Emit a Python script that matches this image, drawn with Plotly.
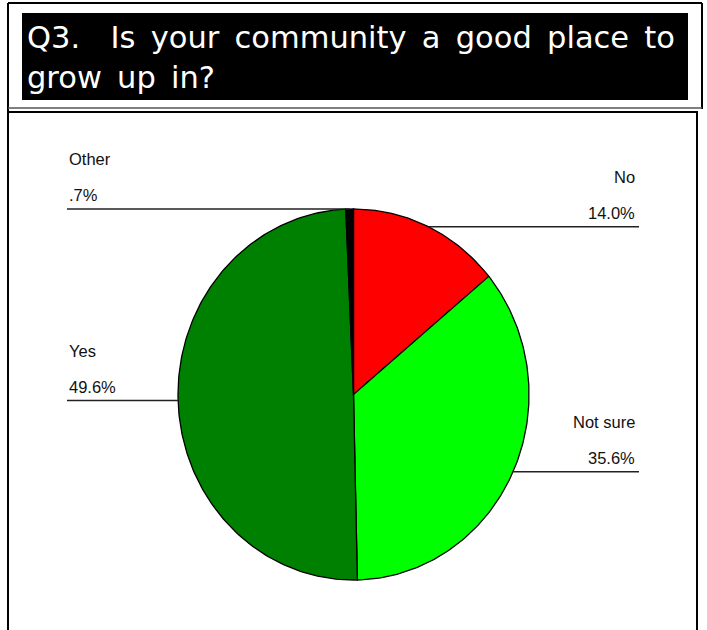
import math
import plotly.graph_objects as go

# Survey answers, clockwise from 12 o'clock
categories = ["No", "Not sure", "Yes", "Other"]
percents = [14.0, 35.6, 49.6, 0.7]
value_labels = ["14.0%", "35.6%", "49.6%", ".7%"]
slice_colors = ["#ff0000", "#00ff00", "#008000", "#000000"]

title_number = "Q3."
title_words = ["Is", "your", "community", "a", "good", "place", "to"]
title_line2 = ["grow", "up", "in?"]

W, H = 707, 630
CX, CY = 353.5, 394.5      # pie centre (axis units == pixels)
RX, RY = 175.5, 185.5      # pie radii
LEFT_X, RIGHT_X = 67, 639  # outer ends of the leader lines
LABEL_FONT = dict(family="Liberation Sans, Arial, sans-serif", size=16.5, color="#111111")


def rim(theta):
    """Point on the pie rim; theta in degrees, clockwise from the top."""
    t = math.radians(theta)
    return CX + RX * math.sin(t), CY - RY * math.cos(t)


fig = go.Figure()
annotations = []
total = sum(percents)
start = 0.0
for name, pct, vlab, col in zip(categories, percents, value_labels, slice_colors):
    sweep = 360.0 * pct / total
    n = max(4, int(sweep))
    xs, ys = [CX], [CY]
    for i in range(n + 1):
        px, py = rim(start + sweep * i / n)
        xs.append(px)
        ys.append(py)
    xs.append(CX)
    ys.append(CY)
    fig.add_trace(go.Scatter(
        x=xs, y=ys, mode="lines", fill="toself", fillcolor=col,
        line=dict(color="#000000", width=1.3), hoverinfo="skip", showlegend=False,
    ))

    mid = start + sweep / 2
    mx, my = rim(mid)
    right = mid < 180
    end_x = RIGHT_X if right else LEFT_X
    fig.add_trace(go.Scatter(
        x=[mx, end_x], y=[my, my], mode="lines",
        line=dict(color="#222222", width=1.5), hoverinfo="skip", showlegend=False,
    ))
    tx = RIGHT_X - 2 if right else LEFT_X
    anchor = "right" if right else "left"
    annotations.append(dict(x=tx, y=my - 50, text=name, xref="x", yref="y",
                            xanchor=anchor, yanchor="middle", showarrow=False, font=LABEL_FONT))
    annotations.append(dict(x=tx, y=my - 14, text=vlab, xref="x", yref="y",
                            xanchor=anchor, yanchor="middle", showarrow=False, font=LABEL_FONT))
    start += sweep

# Title block: wide (en-space) word gaps, two lines in one text element
gap = "\u2002"
line1 = title_number + gap * 2 + gap.join(title_words)
line2 = gap.join(title_line2)
title_font = dict(family="DejaVu Sans, sans-serif", size=30.5, color="#ffffff")
annotations.append(dict(x=25, y=57, text=line1 + "<br>" + line2, xref="x", yref="y",
                        xanchor="left", yanchor="middle", align="left",
                        showarrow=False, font=title_font))

frame = dict(color="#000000", width=2)
shapes = [
    # title box
    dict(type="rect", x0=22, x1=688, y0=13, y1=100, xref="x", yref="y",
         fillcolor="#000000", line=dict(width=0), layer="below"),
    # outer frame of the heading panel
    dict(type="line", x0=8, x1=702, y0=3, y1=3, xref="x", yref="y", line=frame),
    dict(type="line", x0=8, x1=8, y0=3, y1=630, xref="x", yref="y", line=frame),
    dict(type="line", x0=702, x1=702, y0=3, y1=109, xref="x", yref="y", line=frame),
    # separator under the heading
    dict(type="line", x0=8, x1=702, y0=108, y1=108, xref="x", yref="y",
         line=dict(color="#555555", width=1.5)),
    dict(type="line", x0=8, x1=698, y0=112, y1=112, xref="x", yref="y", line=frame),
    # right edge of the chart panel
    dict(type="line", x0=697, x1=697, y0=112, y1=630, xref="x", yref="y", line=frame),
]

fig.update_layout(
    width=W, height=H,
    margin=dict(l=0, r=0, t=0, b=0),
    paper_bgcolor="#ffffff", plot_bgcolor="#ffffff",
    xaxis=dict(range=[0, W], visible=False, fixedrange=True),
    yaxis=dict(range=[H, 0], visible=False, fixedrange=True),
    annotations=annotations,
    shapes=shapes,
    showlegend=False,
)

fig.write_html("out.html")
